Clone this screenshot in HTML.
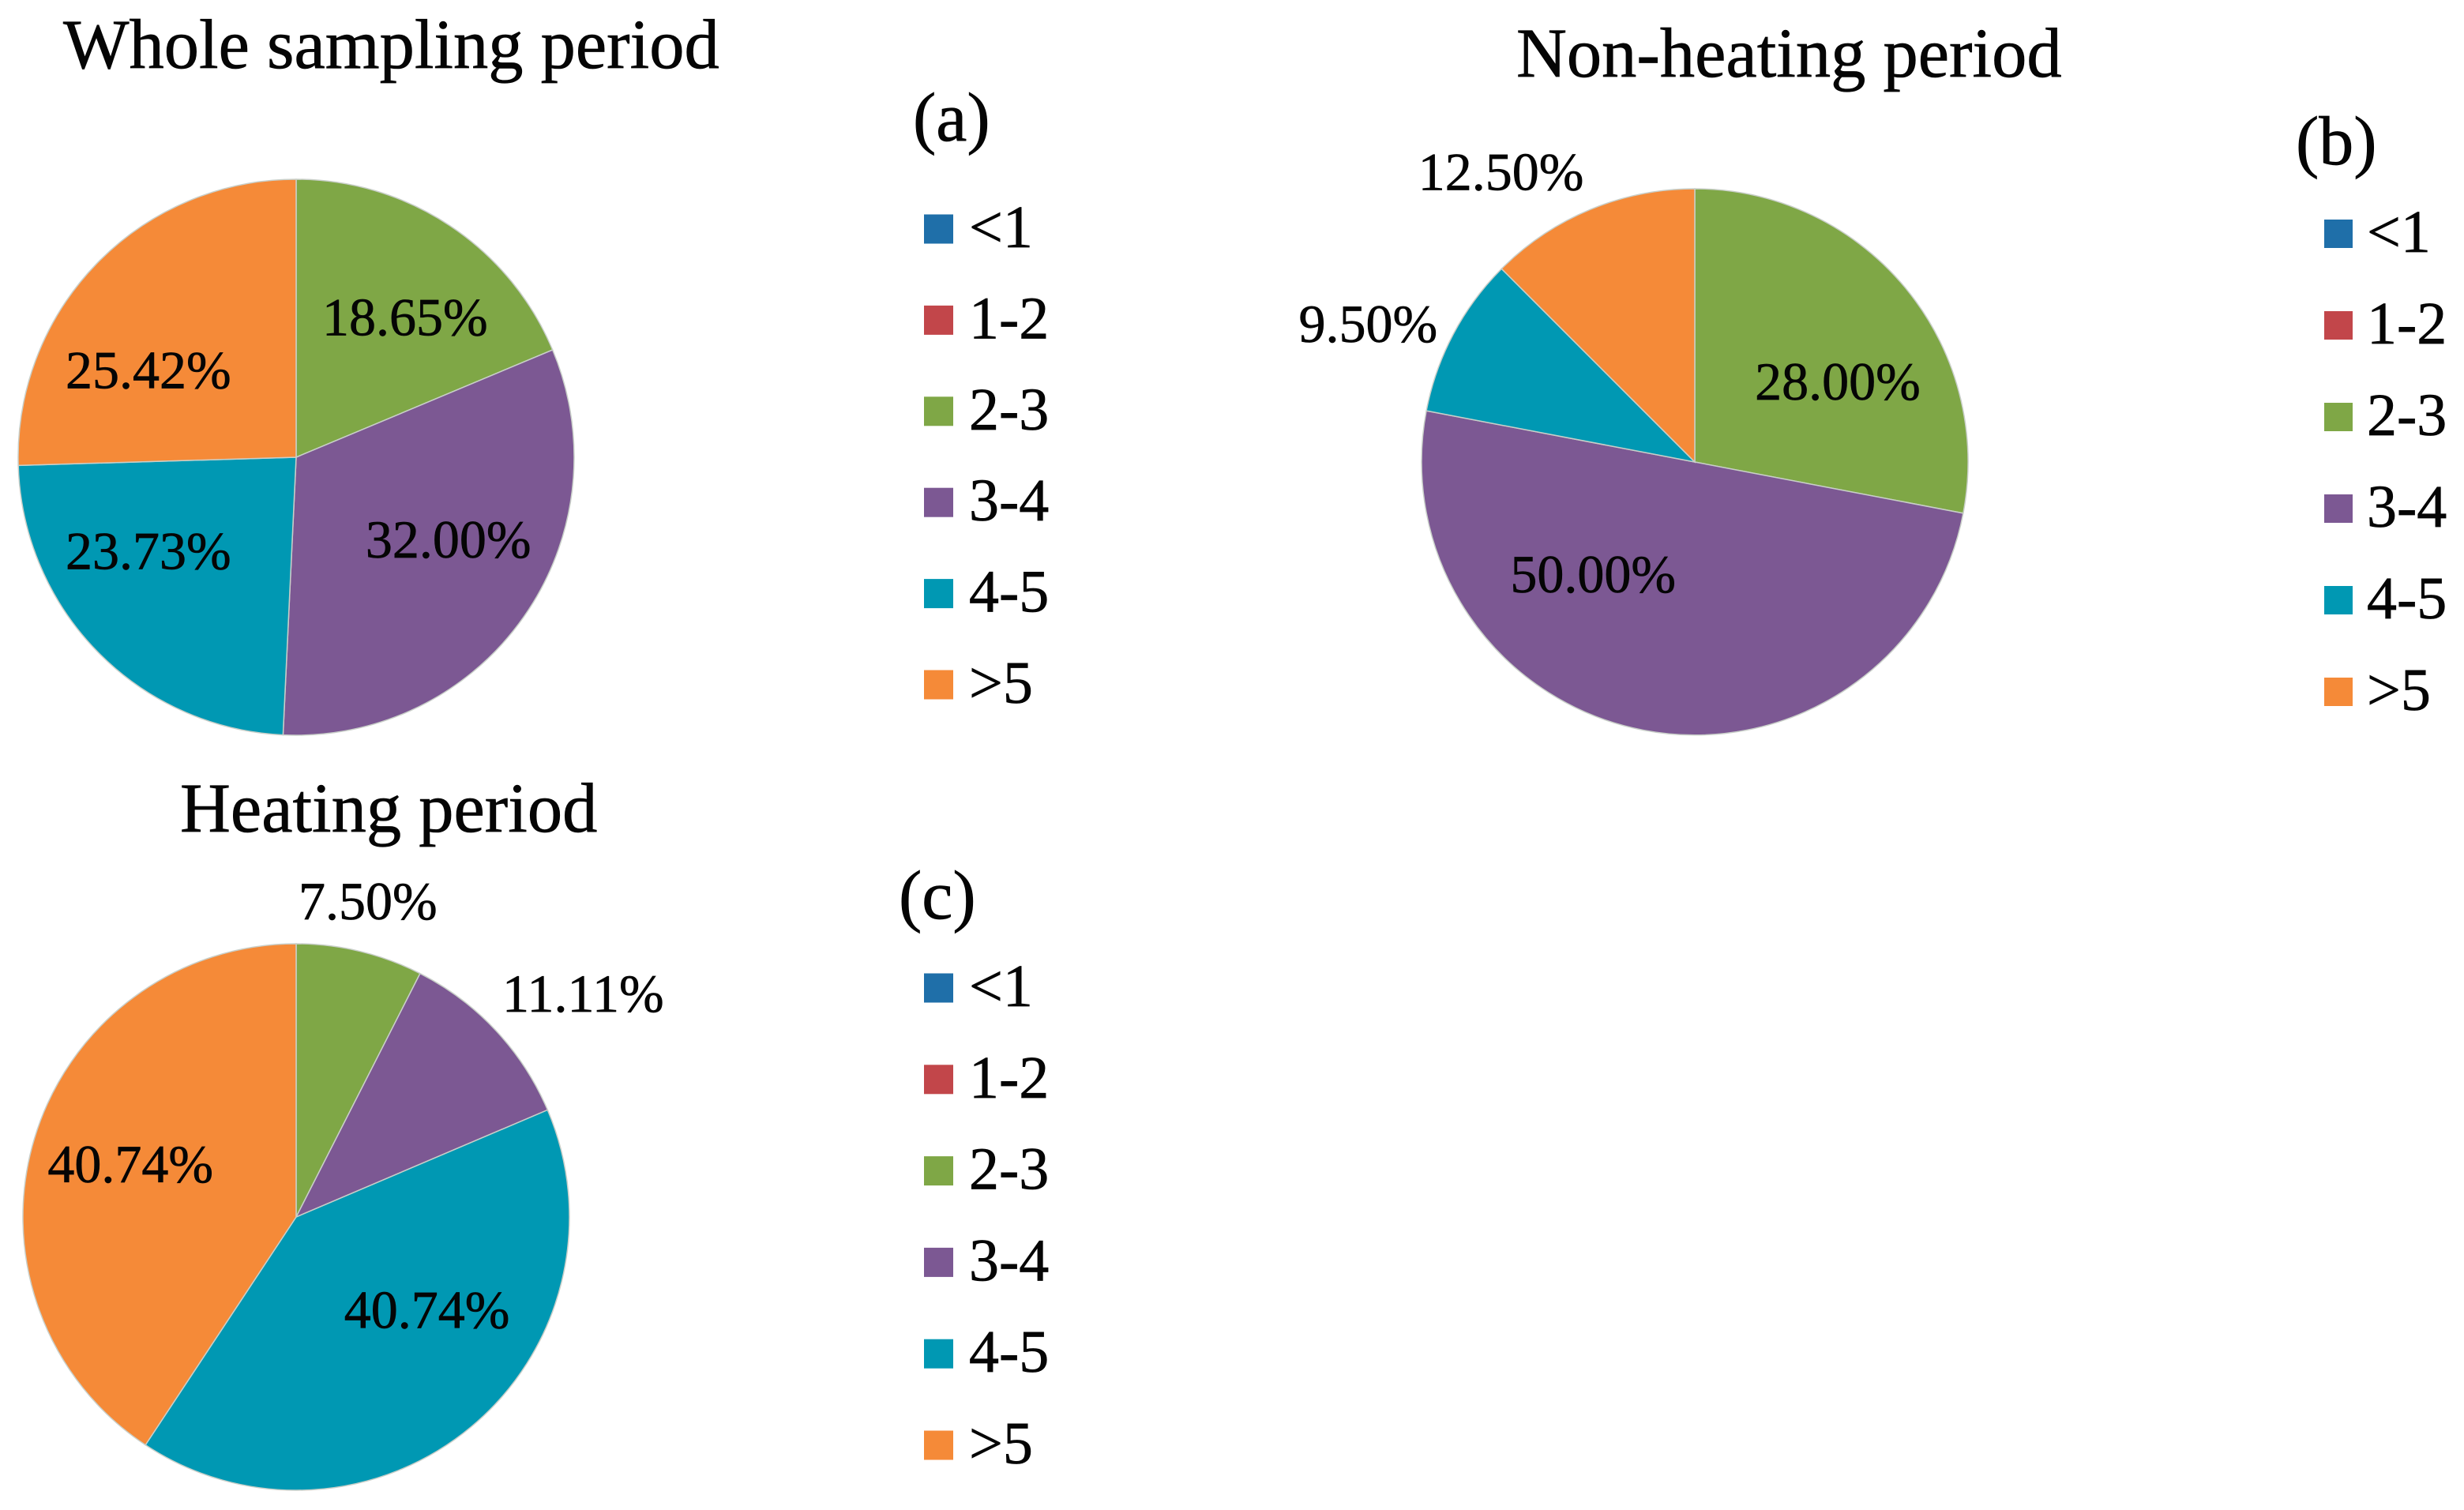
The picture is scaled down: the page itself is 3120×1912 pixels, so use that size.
<!DOCTYPE html>
<html lang="en">
<head>
<meta charset="utf-8">
<title>Pie charts by sampling period</title>
<style>
html,body{margin:0;padding:0;background:#fff;}
svg{display:block;}
text{font-family:"Liberation Serif","Times New Roman",serif;fill:#050505;stroke:#050505;stroke-width:0.7px;}
.title{font-size:88.5px;}
.panel{font-size:88px;}
.legend{font-size:76px;}
.value{font-size:68px;text-anchor:middle;}
</style>
</head>
<body>
<svg id="chart" xmlns="http://www.w3.org/2000/svg" width="3120" height="1912" viewBox="0 0 3120 1912">
  <rect x="0" y="0" width="3120" height="1912" fill="#ffffff"/>
  <text class="title" x="80" y="86">Whole sampling period</text>
  <text class="title" x="1920" y="97">Non-heating period</text>
  <text class="title" x="228" y="1053">Heating period</text>
  <text class="panel" x="1156" y="178">(a)</text>
  <text class="panel" x="2907" y="208">(b)</text>
  <text class="panel" x="1138" y="1163">(c)</text>
</svg>
<script>
const categories = ['<1', '1-2', '2-3', '3-4', '4-5', '>5'];
const sliceColors = ['#1f6fa9', '#c2464a', '#7fa746', '#7c5893', '#0098b3', '#f58a38'];
const valuesWhole = [0, 0, 18.65, 32.00, 23.73, 25.42];
const valuesNonHeating = [0, 0, 28.00, 50.00, 9.50, 12.50];
const valuesHeating = [0, 0, 7.50, 11.11, 40.74, 40.74];

const svg = document.getElementById('chart');
const NS = 'http://www.w3.org/2000/svg';

const panels = [
  {
    key: 'whole', values: valuesWhole, cx: 375, cy: 579, r: 352,
    legendX: 1170, legendTextX: 1227, legendY: 290, legendStep: 115.4, swatch: 37,
    nudges: [null, null, [15, 8], [11, -22], [-29, -36], [-28, 45]]
  },
  {
    key: 'non-heating', values: valuesNonHeating, cx: 2146, cy: 585, r: 346,
    legendX: 2943, legendTextX: 2997, legendY: 296, legendStep: 116, swatch: 36,
    nudges: [null, null, [13, 38], [-88, -71], [-221, -72], [-162, -165]]
  },
  {
    key: 'heating', values: valuesHeating, cx: 375, cy: 1541, r: 346,
    legendX: 1170, legendTextX: 1227, legendY: 1251, legendStep: 115.8, swatch: 37,
    nudges: [null, null, [40, -187], [204, -133], [26, -49], [-1, -3]]
  }
];

function polar(p, fraction, radius) {
  const a = fraction * 2 * Math.PI;
  return [p.cx + radius * Math.sin(a), p.cy - radius * Math.cos(a)];
}

function drawPie(p) {
  const total = p.values.reduce((s, v) => s + v, 0);
  let start = 0;
  p.values.forEach((v, i) => {
    if (v <= 0) return;
    const span = v / total;
    const end = start + span;
    const a = polar(p, start, p.r);
    const b = polar(p, end, p.r);
    const large = span > 0.5 ? 1 : 0;
    const slice = document.createElementNS(NS, 'path');
    slice.setAttribute('d', `M${p.cx} ${p.cy}L${a[0]} ${a[1]}A${p.r} ${p.r} 0 ${large} 1 ${b[0]} ${b[1]}Z`);
    slice.setAttribute('fill', sliceColors[i]);
    slice.setAttribute('stroke', '#c9cfc9');
    slice.setAttribute('stroke-width', '1.5');
    
    
    svg.appendChild(slice);
    start = end;
  });

  start = 0;
  p.values.forEach((v, i) => {
    if (v <= 0) return;
    const span = v / total;
    const mid = polar(p, start + span / 2, p.r * 0.63);
    const label = document.createElementNS(NS, 'text');
    label.setAttribute('class', 'value');
    label.setAttribute('x', mid[0] + p.nudges[i][0]);
    label.setAttribute('y', mid[1] + p.nudges[i][1] + 22);
    label.textContent = v.toFixed(2) + '%';
    
    
    svg.appendChild(label);
    start += span;
  });
}

function drawLegend(p) {
  categories.forEach((c, i) => {
    const y = p.legendY + p.legendStep * i;
    const swatch = document.createElementNS(NS, 'rect');
    swatch.setAttribute('x', p.legendX);
    swatch.setAttribute('y', y - p.swatch / 2);
    swatch.setAttribute('width', p.swatch);
    swatch.setAttribute('height', p.swatch);
    swatch.setAttribute('fill', sliceColors[i]);
    
    
    svg.appendChild(swatch);
    const text = document.createElementNS(NS, 'text');
    text.setAttribute('class', 'legend');
    text.setAttribute('x', p.legendTextX);
    text.setAttribute('y', y + 23);
    text.textContent = c;
    
    
    svg.appendChild(text);
  });
}

panels.forEach(p => {
  drawPie(p);
  drawLegend(p);
});
</script>
</body>
</html>
